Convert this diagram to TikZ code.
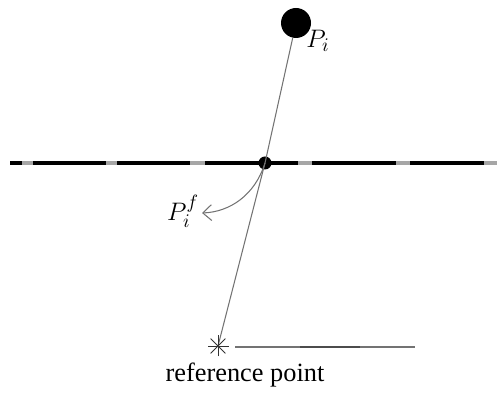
\documentclass[tikz,border=0pt]{standalone}
\usepackage{fontspec}
\setmainfont{Liberation Serif}
\usetikzlibrary{arrows.meta}
\begin{document}
\begin{tikzpicture}[x=0.02cm,y=-0.02cm,
  thinline/.style={draw=black!55,line width=0.6pt},
  axisline/.style={draw=black,line width=1.8pt},
  gapseg/.style={draw=black!35,line width=1.8pt},
  lbl/.style={font=\fontsize{15}{17}\selectfont}]
\useasboundingbox (0,0) rectangle (497,394);
% horizontal axis
\coordinate (L) at (10,163);
\coordinate (R) at (497,163);
\draw[axisline] (L) -- (R);
\foreach \a/\b in {22/33,106/117,190/205,298/312,396/410,484/497}
  \draw[gapseg] (\a,163) -- (\b,163);
% nodes
\node[circle,fill=black,minimum size=30*0.02cm,inner sep=0pt] (P) at (296,23) {};
\node[circle,fill=black,minimum size=13*0.02cm,inner sep=0pt] (D) at (265,163) {};
\coordinate (S) at (218,346);
\coordinate (E) at (415,347);
\coordinate (T) at (202,213);
% connectors
\draw[thinline] (P) -- (D.center);
\draw[thinline] (D.center) -- (S);
\draw[thinline] (235,347) -- (E);
\draw[black!70,line width=0.8pt] (300,347) -- (360,347);
% star
\foreach \ang in {0,45,90,135}
  \draw[black!80,line width=0.5pt] (S) ++(\ang:10.5) -- ++(\ang+180:21);
% curved arrow
\draw[thinline,-{Straight Barb[length=5pt,width=9pt]}] (D.center) .. controls (255,195) and (230,212) .. (T);
% labels
\node[lbl] (PL) at (318,41) {$P_i$};
\node[lbl] (PF) at (183,211) {$P_i^f$};
\node[lbl] (RP) at (245,375) {reference point};
\end{tikzpicture}
\end{document}
